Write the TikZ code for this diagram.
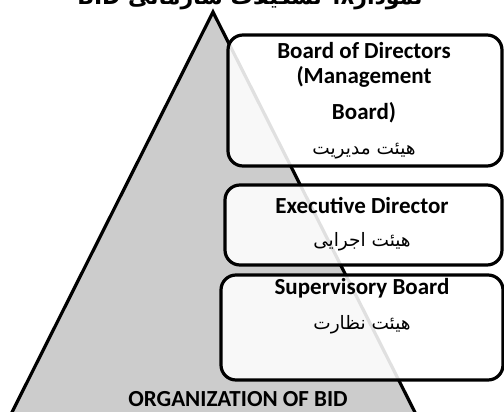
\documentclass[tikz,border=0pt]{standalone}
\usepackage{fontspec}
\setmainfont{Carlito}
\newfontfamily\farsi[Script=Arabic]{DejaVu Sans}
\TeXXeTstate=1

\tikzset{
	board/.style = {draw, line width=3.2pt, rounded corners=15pt, fill=white, fill opacity=0.88, inner sep=0pt},
	entitle/.style = {font=\bfseries\fontsize{23}{26}\selectfont, inner sep=0pt},
	fatitle/.style = {font=\farsi\fontsize{18.5}{22}\selectfont, inner sep=0pt}
}

\begin{document}
\begin{tikzpicture}[x=1pt, y=-1pt]
		\useasboundingbox ( 0, 0 ) rectangle ( 504, 412 );
		\clip ( 0, 0 ) rectangle ( 504, 412 );

		% заголовок
		\node [font=\farsi\bfseries\fontsize{22}{26}\selectfont, anchor=base, inner sep=0pt] (title) at ( 250, 5 ) {\beginR نمودار۸: تشکیلات سازمانی \beginL BID\endL{}\endR};

		% пирамида
		\draw [line width=3.2pt, fill=black!20] ( 213, 12 ) -- ( -10, 456 ) -- ( 437, 456 ) -- cycle;
		\node [entitle] (org) at ( 238, 399.5 ) {ORGANIZATION OF BID};

		% Board of Directors
		\node [board, minimum width=274, minimum height=131] (dirs) at ( 365, 100.5 ) {};
		\node [entitle] (dirsen) at ( 364, 51 ) {Board of Directors};
		\node [entitle] (dirsmg) at ( 364, 77 ) {(Management};
		\node [entitle] (dirsbd) at ( 364, 113 ) {Board)};
		\node [fatitle] (dirsfa) at ( 364, 151 ) {\beginR هیئت مدیریت\endR};

		% Executive Director
		\node [board, minimum width=277, minimum height=80] (exec) at ( 363.5, 225 ) {};
		\node [entitle] (execen) at ( 362, 205 ) {Executive Director};
		\node [fatitle] (execfa) at ( 362, 242 ) {\beginR هیئت اجرایی\endR};

		% Supervisory Board
		\node [board, minimum width=282, minimum height=105] (super) at ( 362, 327.5 ) {};
		\node [entitle] (superen) at ( 362, 288 ) {Supervisory Board};
		\node [fatitle] (superfa) at ( 362, 325 ) {\beginR هیئت نظارت\endR};
	\end{tikzpicture}
\end{document}
